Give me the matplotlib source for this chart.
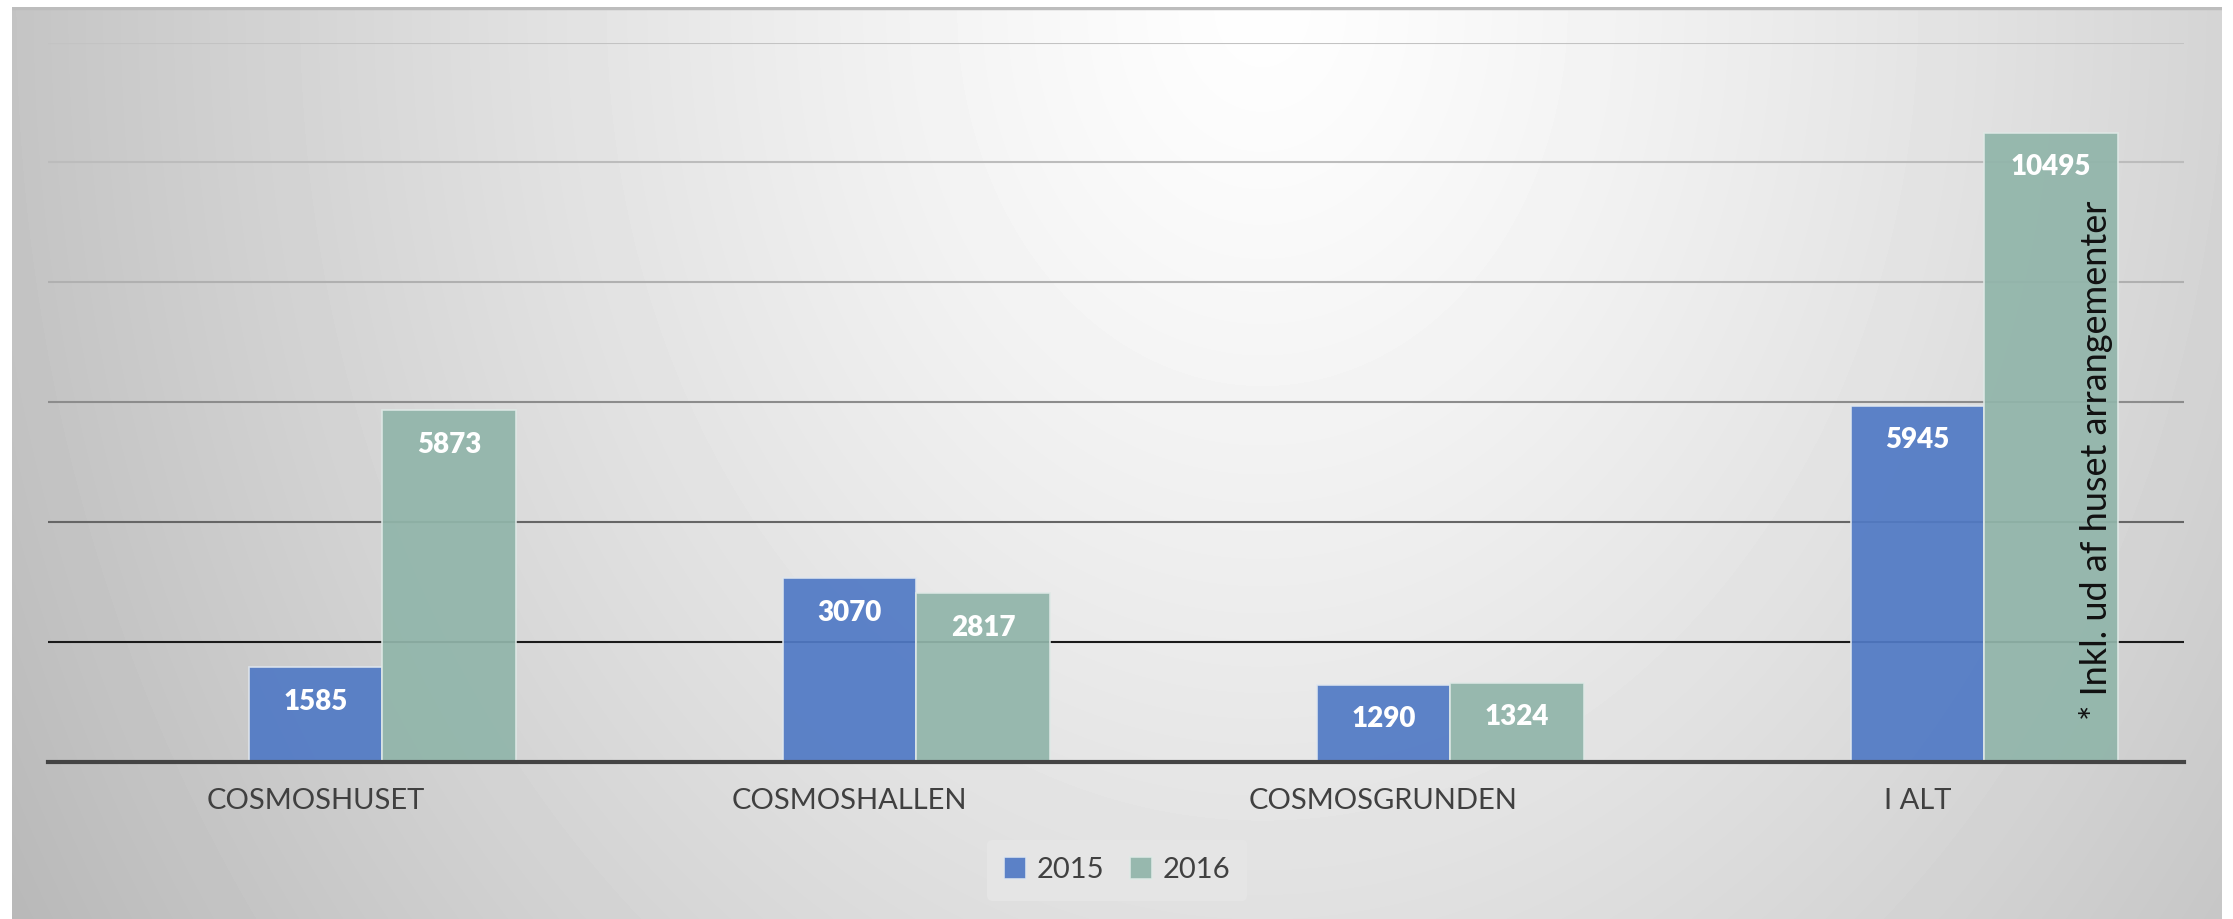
import numpy as np
import matplotlib
matplotlib.use("Agg")
import matplotlib.pyplot as plt

categories = ["COSMOSHUSET", "COSMOSHALLEN", "COSMOSGRUNDEN", "I ALT"]
values_2015 = [1585, 3070, 1290, 5945]
values_2016 = [5873, 2817, 1324, 10495]
series_names = ["2015", "2016"]
note = "* Inkl. ud af huset arrangementer"

plt.rcParams["font.family"] = ["Lato", "DejaVu Sans"]

W, H = 2233, 919
fig = plt.figure(figsize=(W / 100, H / 100), dpi=100)
fig.patch.set_facecolor("white")

# gradient panel behind the chart
bg = fig.add_axes([12 / W, 0, (2222 - 12) / W, (H - 7) / H])
bg.set_axis_off()
yy, xx = np.mgrid[0:912, 0:2210]
d = np.sqrt(((xx - 1250) / 1250.0) ** 2 + (yy / 1550.0) ** 2)
shade = np.clip(254 - 58 * d ** 1.25, 180, 255) / 255.0
bg.imshow(shade, cmap="gray", vmin=0, vmax=1, aspect="auto", interpolation="bilinear")
bg.plot([0, 2209], [0, 0], color="#bdbdbd", lw=2.5)

ax = fig.add_axes([48.4 / W, 157 / H, 2136 / W, 719.5 / H])
ax.set_facecolor("none")

x = np.arange(len(categories))
w = 0.25
b1 = ax.bar(x, values_2015, w, color="#517ac5", alpha=0.93,
            edgecolor="#dfe6ee", linewidth=1.2, label=series_names[0], zorder=3)
b2 = ax.bar(x + w, values_2016, w, color="#91b5aa", alpha=0.93,
            edgecolor="#dfe9e6", linewidth=1.2, label=series_names[1], zorder=3)

for bars, vals in [(b1, values_2015), (b2, values_2016)]:
    for r, v in zip(bars, vals):
        ax.annotate(str(v), (r.get_x() + r.get_width() / 2, v),
                    xytext=(0, -25), textcoords="offset points",
                    ha="center", va="center", color="white",
                    fontsize=20, fontweight="heavy", zorder=5)

ax.set_xlim(-0.5, 3.5)
ax.set_ylim(0, 12000)
ax.set_yticks(range(0, 12001, 2000))
ax.yaxis.grid(True, zorder=1)
grid_colors = ["#444444", "#1a1a1a", "#666666", "#8c8c8c", "#b0b0b0", "#bcbcbc", "#c3c3c3"]
for gl, c in zip(ax.get_ygridlines(), grid_colors):
    gl.set_color(c)
    gl.set_linewidth(1.5)
ax.tick_params(axis="y", left=False, labelleft=False)
ax.set_xticks(x)
ax.set_xticklabels(categories, fontsize=21, color="#404040")
ax.tick_params(axis="x", length=0, pad=19)
for s in ["left", "right", "top"]:
    ax.spines[s].set_visible(False)
ax.spines["bottom"].set_color("#444444")
ax.spines["bottom"].set_linewidth(3)
ax.spines["bottom"].set_zorder(4)

ax.text(3.335, 700, note, rotation=90, ha="center", va="bottom",
        fontsize=26, color="#111111", zorder=6)

leg = ax.legend(loc="center", bbox_to_anchor=(1117 / W, 1 - 870 / H),
                bbox_transform=fig.transFigure, ncol=2, frameon=True,
                fontsize=21, handlelength=0.75, handleheight=0.75,
                handletextpad=0.35, columnspacing=0.9, borderpad=0.6)
leg.get_frame().set_facecolor("#e6e6e6")
leg.get_frame().set_edgecolor("none")
leg.get_frame().set_alpha(0.9)
for t in leg.get_texts():
    t.set_color("#404040")

fig.savefig("out.png", dpi=100)
